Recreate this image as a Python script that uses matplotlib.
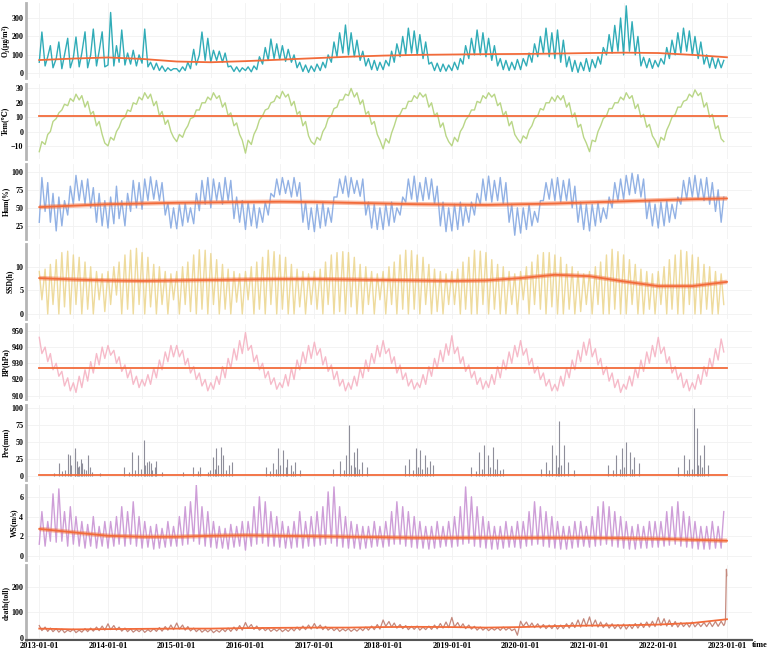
import matplotlib
matplotlib.use('Agg')
import matplotlib.pyplot as plt
import matplotlib.dates as mdates
import pandas as pd

plt.rcParams['font.family'] = ['Liberation Serif', 'DejaVu Serif']
plt.rcParams['font.weight'] = 'bold'
plt.rcParams['font.size'] = 6

# readings taken on the 1st and 15th of each month, 2013 .. 2022
o3 = [60, 224, 40, 90, 150, 30, 80, 170, 25, 100, 190, 30, 85, 197, 35, 110, 225, 30, 100, 240, 40, 120, 225, 35,
      45, 330, 40, 150, 60, 235, 45, 110, 50, 125, 40, 100, 55, 240, 35, 60, 20, 55, 15, 40, 10, 30, 15, 25,
      25, 8, 35, 15, 60, 25, 130, 45, 100, 224, 70, 190, 60, 125, 70, 120, 60, 110, 35, 40, 10, 35, 8, 30,
      15, 35, 8, 40, 20, 90, 50, 140, 70, 186, 80, 160, 75, 150, 65, 130, 60, 100, 30, 60, 10, 45, 5, 40,
      10, 50, 15, 60, 30, 100, 60, 170, 90, 220, 110, 262, 100, 220, 90, 180, 70, 120, 40, 80, 20, 70, 16, 60,
      20, 70, 40, 120, 60, 160, 90, 200, 100, 245, 110, 230, 100, 210, 80, 170, 50, 60, 15, 55, 10, 50, 12, 45,
      15, 60, 20, 80, 50, 150, 80, 190, 100, 235, 100, 220, 90, 190, 70, 150, 40, 80, 20, 70, 15, 60, 20, 75,
      20, 80, 40, 110, 60, 160, 90, 200, 110, 245, 90, 220, 80, 235, 60, 180, 35, 90, 10, 70, 5, 60, 15, 80,
      10, 75, 30, 90, 50, 140, 100, 210, 110, 260, 120, 300, 100, 366, 120, 280, 100, 200, 40, 87, 30, 80, 27, 70,
      35, 80, 50, 140, 80, 180, 100, 220, 110, 245, 120, 230, 100, 200, 80, 170, 50, 100, 30, 90, 27, 80, 30, 70]

tem = [-14, -7, -9, -2, 0, 7, 9, 13, 15, 19, 18, 23, 21, 26, 22, 25, 17, 21, 12, 14, 4, 7, -2, -8,
       -10, -4, -6, 0, 3, 8, 10, 15, 14, 20, 19, 24, 22, 27, 23, 26, 18, 21, 11, 14, 5, 8, 0, -4,
       -7, -2, -4, 1, 4, 9, 10, 15, 15, 20, 20, 24, 22, 27, 23, 25, 17, 20, 11, 13, 4, 6, -2, -6,
       -15, -6, -9, -2, 2, 8, 11, 15, 16, 20, 21, 25, 23, 28, 24, 26, 18, 21, 12, 14, 4, 7, -3, -7,
       -9, -4, -6, 0, 3, 9, 11, 16, 17, 22, 22, 26, 25, 30, 24, 27, 19, 22, 12, 14, 5, 7, -2, -6,
       -12, -5, -8, -1, 4, 10, 12, 16, 16, 21, 21, 25, 23, 27, 24, 26, 17, 20, 11, 13, 3, 6, -3, -7,
       -10, -4, -7, 0, 3, 8, 11, 15, 15, 21, 20, 25, 23, 27, 24, 26, 18, 20, 11, 14, 4, 7, -2, -5,
       -8, -3, -5, 1, 4, 9, 11, 16, 15, 20, 20, 24, 21, 25, 22, 25, 17, 20, 10, 13, 3, 5, -4, -8,
       -14, -6, -7, 0, 4, 9, 11, 16, 16, 20, 20, 24, 22, 27, 23, 25, 16, 19, 10, 12, 3, 5, -3, -6,
       -11, -4, -6, 1, 5, 10, 12, 17, 17, 21, 22, 26, 24, 29, 25, 27, 17, 20, 10, 12, 2, 4, -5, -7]

hum = [30, 92, 45, 85, 30, 70, 18, 65, 25, 60, 40, 80, 55, 95, 60, 88, 55, 90, 50, 78, 30, 70, 25, 60,
       22, 65, 28, 80, 35, 60, 25, 70, 45, 88, 50, 85, 48, 90, 60, 93, 62, 88, 60, 85, 40, 57, 22, 50,
       21, 55, 25, 57, 30, 50, 28, 70, 46, 88, 55, 92, 50, 90, 60, 85, 55, 92, 60, 88, 35, 65, 30, 60,
       20, 58, 25, 55, 22, 50, 30, 58, 40, 70, 65, 90, 68, 92, 70, 88, 65, 92, 66, 85, 30, 58, 20, 50,
       17, 55, 22, 58, 25, 50, 30, 65, 65, 90, 70, 94, 65, 92, 70, 88, 66, 90, 40, 58, 22, 55, 20, 50,
       20, 55, 25, 58, 30, 50, 40, 65, 58, 90, 62, 94, 58, 85, 60, 92, 62, 90, 55, 80, 25, 58, 17, 50,
       18, 55, 20, 58, 25, 52, 30, 58, 40, 70, 55, 90, 60, 94, 58, 88, 60, 92, 55, 85, 30, 55, 12, 50,
       15, 50, 20, 55, 25, 45, 30, 60, 60, 85, 62, 90, 60, 92, 58, 88, 60, 90, 50, 80, 30, 58, 20, 55,
       18, 55, 25, 58, 30, 50, 35, 65, 50, 85, 60, 90, 62, 95, 68, 98, 70, 96, 65, 90, 35, 60, 25, 55,
       22, 58, 25, 60, 30, 55, 35, 65, 55, 88, 62, 92, 65, 95, 62, 90, 60, 92, 55, 85, 45, 75, 30, 65]

ssd = [9, 3, 9.5, 0, 10.5, 2, 11.5, 0, 13, 1.5, 13.3, 0, 12.5, 2, 12, 0, 11, 1, 10, 0, 9, 3, 8.5, 0.5,
       9, 2, 10, 4, 11, 0, 12.5, 1, 13.5, 0, 13.9, 2, 13, 0, 12, 1.5, 10.5, 0, 10, 2, 9, 0, 8.5, 3,
       9, 0, 10, 2, 11, 0.5, 12.5, 0, 13.6, 1, 13.5, 0, 12.8, 2, 11.5, 0, 10.5, 1, 9.5, 0, 9, 2.5, 8.5, 0,
       9, 3, 10, 0, 11, 1, 12, 0, 13.5, 2, 13.2, 0, 12.5, 1, 12, 0, 10.5, 0, 9.5, 1.5, 9, 0, 8.5, 2,
       9, 1, 9.5, 0, 11, 2, 12.5, 0, 13, 0.5, 13.2, 0, 13, 1.5, 12, 0, 10.5, 0, 10, 2, 9, 0, 8.5, 3,
       9, 0, 10, 2, 11, 0, 12.5, 1, 13.5, 0, 13.4, 1, 12.5, 0, 12, 2, 10.5, 0, 9.5, 0.5, 9, 0, 8.5, 2,
       9, 2, 9.5, 0, 11, 1, 12, 0, 13.5, 0, 13.3, 2, 13, 0, 11.5, 1, 10.5, 0, 10, 0, 9, 2, 8.5, 0,
       9, 3, 10, 0, 11, 2, 12.5, 1, 13, 0, 13, 1.5, 12.5, 0, 12, 0, 10.5, 1, 10, 0, 9, 0.5, 8.5, 2,
       9, 0, 10, 2, 11, 0, 12.5, 0, 13.7, 1, 13.2, 0, 12.5, 0, 11.5, 2, 10.5, 0, 9.5, 0, 9, 1, 8.5, 0,
       9, 2, 10, 0, 11.5, 1, 12.5, 0, 13.5, 0, 13.2, 2, 12.5, 0, 12, 0, 10.5, 1, 10, 0, 9, 0, 8.5, 2]

bp = [946, 936, 940, 931, 936, 926, 930, 922, 925, 916, 921, 913, 918, 912, 922, 915, 926, 919, 931, 924, 936, 929, 940, 933,
      941, 935, 938, 930, 934, 925, 929, 921, 926, 917, 922, 915, 920, 916, 923, 917, 927, 921, 932, 926, 937, 931, 941, 934,
      941, 934, 938, 929, 933, 924, 928, 920, 924, 916, 920, 913, 918, 914, 922, 917, 928, 921, 933, 927, 939, 932, 944, 936,
      949, 938, 941, 931, 935, 926, 930, 921, 925, 917, 921, 914, 918, 915, 923, 916, 927, 920, 932, 926, 937, 930, 941, 933,
      943, 935, 939, 929, 934, 925, 929, 920, 925, 916, 920, 913, 918, 914, 922, 916, 927, 921, 932, 925, 936, 930, 941, 934,
      944, 936, 939, 930, 934, 924, 929, 920, 924, 916, 920, 914, 918, 915, 923, 917, 928, 922, 933, 927, 938, 931, 942, 935,
      947, 936, 940, 930, 934, 925, 929, 921, 925, 917, 921, 914, 919, 915, 923, 917, 928, 921, 932, 926, 937, 930, 941, 934,
      944, 935, 939, 929, 933, 924, 928, 920, 924, 916, 920, 913, 917, 913, 922, 916, 927, 921, 932, 926, 938, 931, 943, 935,
      945, 934, 939, 929, 933, 923, 928, 919, 924, 915, 920, 912, 917, 914, 922, 916, 927, 921, 932, 925, 937, 930, 941, 934,
      946, 936, 940, 930, 934, 924, 928, 920, 924, 915, 920, 913, 918, 914, 923, 917, 928, 922, 933, 927, 939, 932, 945, 937]

ws = [1.2, 4.5, 1.0, 3.5, 1.5, 6.3, 1.4, 6.8, 1.5, 4.5, 1.0, 5.0, 1.2, 4.0, 1.0, 3.5, 0.8, 3.2, 1.0, 4.0, 0.8, 3.0, 1.0, 3.5,
      0.8, 3.5, 1.0, 4.0, 1.2, 5.0, 1.0, 4.5, 1.2, 5.5, 1.0, 4.0, 0.8, 3.5, 0.9, 3.0, 0.7, 3.2, 0.8, 2.8, 0.9, 3.5, 1.0, 3.0,
      1.0, 4.0, 1.1, 5.0, 1.2, 5.5, 1.5, 7.2, 1.2, 5.0, 1.0, 4.5, 0.9, 3.5, 0.8, 3.0, 0.8, 2.8, 0.7, 3.2, 0.9, 3.0, 1.0, 3.5,
      0.6, 3.5, 1.0, 5.0, 1.2, 6.0, 1.3, 5.5, 1.0, 4.5, 1.0, 4.0, 0.9, 3.5, 0.8, 3.0, 0.8, 3.5, 0.9, 4.5, 0.8, 3.5, 1.0, 4.0,
      1.0, 4.5, 1.1, 5.0, 1.2, 6.5, 1.3, 7.0, 1.0, 5.0, 0.9, 4.0, 0.8, 3.5, 0.8, 3.2, 0.7, 3.0, 0.8, 3.0, 0.9, 3.5, 1.0, 3.0,
      0.9, 3.5, 1.0, 4.5, 1.2, 5.5, 1.2, 5.0, 1.0, 4.5, 0.9, 4.0, 0.8, 3.5, 0.8, 3.0, 0.7, 3.0, 0.8, 3.5, 0.9, 3.0, 1.0, 3.5,
      0.9, 4.0, 1.0, 5.0, 1.2, 7.0, 1.3, 6.0, 1.0, 5.0, 0.9, 4.0, 0.8, 3.5, 0.7, 3.0, 0.7, 3.0, 0.8, 3.5, 0.9, 3.0, 0.9, 3.5,
      0.8, 3.5, 1.0, 4.5, 1.1, 5.5, 1.2, 5.0, 1.0, 4.5, 0.9, 4.0, 0.8, 3.5, 0.7, 3.0, 0.7, 3.0, 0.8, 3.5, 0.9, 3.5, 1.0, 3.0,
      0.9, 4.0, 1.0, 5.0, 1.1, 5.5, 1.2, 5.0, 1.0, 4.5, 0.9, 4.0, 0.8, 3.5, 0.7, 3.0, 0.7, 3.2, 0.8, 3.0, 0.8, 3.5, 0.9, 3.5,
      0.9, 3.5, 1.0, 4.5, 1.1, 5.0, 1.2, 5.5, 1.0, 4.5, 0.9, 4.0, 0.8, 3.5, 0.7, 3.0, 0.7, 3.0, 0.7, 3.5, 0.8, 3.0, 0.8, 4.5]

death = [48, 28, 42, 25, 38, 24, 36, 22, 34, 20, 30, 24, 34, 20, 30, 22, 36, 24, 38, 26, 42, 28, 46, 30,
         55, 32, 48, 30, 42, 26, 38, 24, 35, 22, 32, 24, 34, 21, 32, 24, 36, 25, 40, 26, 44, 30, 50, 32,
         58, 34, 50, 30, 44, 27, 38, 24, 35, 22, 32, 23, 33, 20, 30, 22, 35, 24, 38, 25, 42, 28, 48, 30,
         60, 38, 52, 33, 46, 30, 40, 28, 38, 25, 35, 26, 36, 24, 34, 25, 38, 27, 42, 30, 46, 32, 50, 34,
         56, 36, 50, 32, 45, 30, 40, 28, 38, 25, 35, 27, 36, 25, 35, 26, 38, 28, 42, 30, 46, 32, 52, 34,
         70, 45, 64, 42, 58, 38, 52, 36, 48, 32, 45, 33, 46, 30, 42, 32, 46, 33, 50, 35, 56, 38, 62, 40,
         80, 42, 60, 40, 55, 36, 50, 34, 45, 30, 42, 30, 40, 28, 38, 30, 40, 29, 42, 30, 40, 28, 35, 10,
         65, 45, 62, 42, 58, 40, 55, 38, 52, 36, 50, 36, 52, 34, 50, 36, 55, 38, 60, 40, 70, 42, 75, 45,
         82, 44, 70, 42, 62, 40, 58, 38, 55, 36, 52, 35, 54, 34, 52, 36, 56, 38, 58, 40, 62, 42, 65, 44,
         80, 48, 75, 46, 70, 44, 64, 42, 60, 44, 58, 42, 62, 43, 58, 44, 60, 44, 62, 44, 64, 45, 65, 48]
# last days of 2022: sharp jump
death_tail_dates = ['2022-12-20', '2022-12-24', '2022-12-27', '2022-12-29', '2022-12-31']
death_tail = [55, 70, 180, 270, 245]

# rain events (date, mm)
pre_dates = ['2013-03-20', '2013-04-15', '2013-05-02', '2013-05-20', '2013-06-05', '2013-06-12', '2013-06-20',
             '2013-07-08', '2013-07-12', '2013-07-18', '2013-07-25', '2013-08-01', '2013-08-08', '2013-08-15',
             '2013-08-25', '2013-09-05', '2013-09-15', '2013-09-25', '2013-10-10', '2013-11-20',
             '2014-03-25', '2014-04-20', '2014-05-08', '2014-05-25', '2014-06-10', '2014-06-25', '2014-07-10',
             '2014-07-18', '2014-07-25', '2014-08-05', '2014-08-15', '2014-08-25', '2014-09-05', '2014-09-15',
             '2014-10-15',
             '2015-02-05', '2015-03-28', '2015-04-25', '2015-05-05', '2015-06-15', '2015-06-28', '2015-07-12',
             '2015-07-22', '2015-07-30', '2015-08-10', '2015-08-25', '2015-09-05', '2015-09-18', '2015-10-05',
             '2015-10-20',
             '2016-04-20', '2016-05-10', '2016-05-25', '2016-06-10', '2016-06-20', '2016-07-05', '2016-07-20',
             '2016-08-01', '2016-08-10', '2016-08-28', '2016-09-10', '2016-09-20', '2016-10-15',
             '2017-04-10', '2017-05-15', '2017-06-05', '2017-06-20', '2017-07-05', '2017-07-15', '2017-07-28',
             '2017-08-05', '2017-08-15', '2017-08-28', '2017-09-10', '2017-10-05',
             '2018-04-25', '2018-05-20', '2018-06-10', '2018-06-25', '2018-07-05', '2018-07-15', '2018-07-28',
             '2018-08-10', '2018-08-20', '2018-09-05', '2018-09-25',
             '2019-04-15', '2019-05-10', '2019-05-25', '2019-06-08', '2019-06-20', '2019-07-10', '2019-07-22',
             '2019-08-05', '2019-08-18', '2019-08-30', '2019-09-15', '2019-10-01',
             '2020-04-20', '2020-05-15', '2020-06-01', '2020-06-15', '2020-07-05', '2020-07-15', '2020-07-25',
             '2020-08-05', '2020-08-20', '2020-09-10', '2020-10-10',
             '2021-04-10', '2021-05-05', '2021-05-20', '2021-06-10', '2021-06-25', '2021-07-05', '2021-07-15',
             '2021-08-05', '2021-08-15', '2021-08-25', '2021-09-20',
             '2022-04-15', '2022-05-20', '2022-06-01', '2022-06-15', '2022-07-01', '2022-07-10', '2022-07-25',
             '2022-08-01', '2022-08-10', '2022-08-20', '2022-08-30', '2022-09-20']
pre_vals = [3, 18, 6, 8, 32, 30, 15, 40, 35, 22, 12, 14, 25, 18, 10, 8, 31, 12, 5, 3,
            12, 5, 34, 8, 31, 10, 52, 15, 20, 21, 19, 8, 12, 22, 5,
            5, 12, 6, 13, 5, 8, 28, 10, 40, 15, 42, 30, 8, 15, 20,
            12, 6, 18, 10, 40, 15, 38, 12, 25, 15, 6, 20, 8,
            10, 22, 8, 30, 75, 15, 35, 12, 40, 10, 20, 12,
            15, 25, 8, 40, 12, 38, 10, 30, 12, 22, 15,
            12, 6, 35, 10, 45, 30, 12, 42, 10, 25, 8, 10,
            10, 20, 8, 45, 30, 12, 80, 15, 45, 20, 8,
            15, 8, 30, 10, 40, 12, 50, 35, 10, 28, 18,
            12, 30, 8, 25, 10, 100, 70, 15, 30, 12, 45, 15]

# smoothed trend, read every half year 2013-01 .. 2023-01
o3_trend = [72, 80, 86, 78, 64, 60, 66, 74, 82, 90, 96, 100, 102, 104, 105, 107, 110, 112, 110, 100, 87]
tem_trend = [10.6, 10.6, 10.6, 10.6, 10.6, 10.6, 10.6, 10.6, 10.6, 10.6, 10.6,
             10.6, 10.6, 10.6, 10.6, 10.6, 10.6, 10.6, 10.6, 10.6, 10.6]
hum_trend = [51, 53, 55, 56, 57, 57.5, 58, 58.5, 58, 57, 56, 55, 54.5, 54, 55, 56, 57.5, 59, 60.5, 62, 63]
ssd_trend = [7.6, 7.3, 7.1, 7.0, 7.1, 7.2, 7.3, 7.4, 7.4, 7.3, 7.2, 7.1, 7.0, 7.1, 7.6, 8.3, 8.0, 6.9, 5.9, 5.9, 6.8]
bp_trend = [926.8, 926.8, 926.8, 926.8, 926.8, 926.8, 926.8, 926.8, 926.8, 926.8, 926.8,
            926.8, 926.8, 926.8, 926.8, 926.8, 926.8, 926.8, 926.8, 926.8, 926.8]
pre_trend = [1.0, 1.0, 1.0, 1.0, 1.0, 1.0, 1.0, 1.0, 1.0, 1.0, 1.0,
             1.0, 1.0, 1.0, 1.0, 1.0, 1.0, 1.0, 1.0, 1.0, 1.0]
ws_trend = [2.75, 2.4, 2.05, 1.95, 1.95, 2.05, 2.1, 2.05, 2.0, 1.95, 1.9, 1.85, 1.85, 1.85, 1.85, 1.85,
            1.85, 1.8, 1.75, 1.65, 1.55]
death_trend = [36, 33, 34, 35, 36, 36, 38, 39, 40, 40, 42, 43, 42, 40, 42, 46, 48, 49, 52, 58, 73]

labels = ['O₃(μg/m³)', 'Tem(℃)', 'Hum(%)', 'SSD(h)', 'BP(hPa)', 'Pre(mm)', 'WS(m/s)', 'death(toll)']
colors = ['#1aa3b0', '#b2d27a', '#86a9e2', '#e9cf7c', '#f5b3c3', '#8e8e9a', '#c994d4', '#c4887c']
ylims = [(-27, 380), (-18.8, 33.4), (7, 111), (-1.1, 14.8), (907.7, 954), (-6.2, 104.6), (-0.4, 7.2), (-10, 286)]
yticks = [[0, 100, 200, 300], [-10, 0, 10, 20, 30], [25, 50, 75, 100], [0, 5, 10],
          [910, 920, 930, 940, 950], [0, 25, 50, 75, 100], [0, 2, 4, 6], [0, 100, 200]]
trend_col = '#f26b3a'

semi = pd.date_range('2013-01-01', periods=240, freq='SMS')
tdates = pd.date_range('2013-01-01', '2023-01-01', freq='6MS')

fig, axes = plt.subplots(8, 1, figsize=(7.67, 6.52), dpi=100, sharex=True,
                         gridspec_kw=dict(hspace=0.07, left=0.034, right=0.98, top=0.995, bottom=0.018))

series = [o3, tem, hum, ssd, bp, None, ws, death]
trends = [o3_trend, tem_trend, hum_trend, ssd_trend, bp_trend, pre_trend, ws_trend, death_trend]
wide = [False, False, True, True, False, False, True, False]

for i, ax in enumerate(axes):
    if i == 5:
        ax.vlines(pd.to_datetime(pre_dates), 0, pre_vals, color=colors[i], lw=0.8)
    elif i == 7:
        d = list(semi) + list(pd.to_datetime(death_tail_dates))
        ax.plot(d, death + death_tail, color=colors[i], lw=0.9)
    else:
        alpha = 0.75 if i == 3 else 0.9
        ax.plot(semi, series[i], color=colors[i], lw=1.0, alpha=alpha)
    if wide[i]:
        ax.plot(tdates, trends[i], color=trend_col, lw=3.2, alpha=0.45, solid_capstyle='butt')
    ax.plot(tdates, trends[i], color=trend_col, lw=1.3)

    ax.set_ylim(*ylims[i])
    ax.set_yticks(yticks[i])
    ax.set_ylabel(labels[i], labelpad=1, fontsize=5.5, fontweight='bold')
    ax.grid(True, which='both', color='#f1f1f1', lw=0.6)
    ax.set_axisbelow(True)
    for s in ['top', 'right', 'bottom']:
        ax.spines[s].set_visible(False)
    ax.spines['left'].set_color('#b5b5b5')
    ax.spines['left'].set_linewidth(2)
    ax.tick_params(axis='y', length=0, pad=2, labelsize=5.8)
    ax.tick_params(axis='x', which='both', length=0)

ax = axes[-1]
ax.spines['bottom'].set_visible(True)
ax.spines['bottom'].set_color('#555555')
ax.spines['bottom'].set_linewidth(1.5)
ax.xaxis.set_major_locator(mdates.YearLocator())
ax.xaxis.set_minor_locator(mdates.MonthLocator(bymonth=[7]))
ax.xaxis.set_major_formatter(mdates.DateFormatter('%Y-%m-%d'))
ax.tick_params(axis='x', pad=1)
ax.set_xlim(pd.Timestamp('2012-10-23'), pd.Timestamp('2023-05-12'))
ax.set_xlabel('time', ha='left', fontweight='bold')
ax.xaxis.set_label_coords(1.0, -0.012)

fig.savefig('out.png', dpi=100)
